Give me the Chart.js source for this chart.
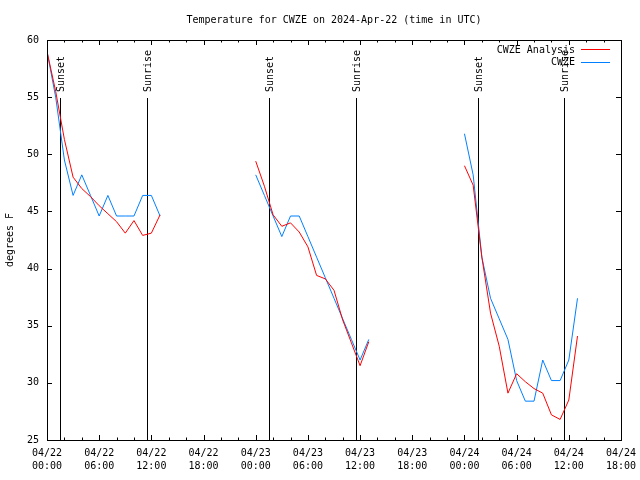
<!DOCTYPE html>
<html>
<head>
<meta charset="utf-8">
<script src="https://cdn.jsdelivr.net/npm/chart.js@4.4.1/dist/chart.umd.min.js"></script>
<style>
  html, body { margin: 0; padding: 0; background: #fff; }
  #wrap { width: 640px; height: 480px; }
</style>
</head>
<body>
<div id="wrap"><canvas id="tempChart"></canvas></div>
<script>
// hours since 2024-04-22 00:00 UTC
const hours = [0,1,2,3,4,5,6,7,8,9,10,11,12,13,14,15,16,17,18,19,20,21,22,23,
  24,25,26,27,28,29,30,31,32,33,34,35,36,37,38,39,40,41,42,43,44,45,46,47,
  48,49,50,51,52,53,54,55,56,57,58,59,60,61];

const analysis = [59.0,55.5,51.3,48.0,47.0,46.3,45.5,44.8,44.1,43.1,44.2,42.9,43.1,44.7,
  null,null,null,null,null,null,null,null,null,null,
  49.4,47.2,44.7,43.7,44.0,43.2,41.9,39.4,39.1,38.1,35.5,33.5,31.5,33.6,
  null,null,null,null,null,null,null,null,null,null,
  49.0,47.3,41.0,36.1,33.2,29.1,30.8,30.1,29.5,29.1,27.2,26.8,28.5,34.1];

const observed = [59.0,55.0,49.5,46.4,48.2,46.4,44.6,46.4,44.6,44.6,44.6,46.4,46.4,44.6,
  null,null,null,null,null,null,null,null,null,null,
  48.2,46.4,44.6,42.8,44.6,44.6,42.8,41.0,39.2,37.4,35.6,33.8,32.0,33.8,
  null,null,null,null,null,null,null,null,null,null,
  51.8,48.2,41.0,37.4,35.6,33.8,30.2,28.4,28.4,32.0,30.2,30.2,32.0,37.4];

const tickLabels = [
  ["04/22", "00:00"], ["04/22", "06:00"], ["04/22", "12:00"], ["04/22", "18:00"],
  ["04/23", "00:00"], ["04/23", "06:00"], ["04/23", "12:00"], ["04/23", "18:00"],
  ["04/24", "00:00"], ["04/24", "06:00"], ["04/24", "12:00"], ["04/24", "18:00"]
];

const sunHours = [1.53, 11.5, 25.56, 35.57, 49.6, 59.5];
const sunLabels = ["Sunset", "Sunrise", "Sunset", "Sunrise", "Sunset", "Sunrise"];

const seriesNames = ["CWZE Analysis", "CWZE"];
const seriesColors = ["#ff0000", "#0080ff"];

const FONT = "DejaVu Sans Mono";

function toPoints(vals) {
  return hours.map((h, i) => ({ x: h, y: vals[i] }));
}

const gnuplotLook = {
  id: "gnuplotLook",
  beforeDatasetsDraw(chart) {
    const { ctx, chartArea, scales } = chart;
    ctx.save();
    ctx.strokeStyle = "#000";
    ctx.fillStyle = "#000";
    ctx.lineWidth = 1;
    ctx.font = "10px '" + FONT + "'";
    sunHours.forEach((h, i) => {
      const x = Math.round(scales.x.getPixelForValue(h)) + 0.5;
      ctx.beginPath();
      ctx.moveTo(x, 98);
      ctx.lineTo(x, chartArea.bottom);
      ctx.stroke();
      ctx.save();
      ctx.translate(x + 1, 92);
      ctx.rotate(-Math.PI / 2);
      ctx.textAlign = "left";
      ctx.textBaseline = "middle";
      ctx.fillText(sunLabels[i], 0, 0);
      ctx.restore();
    });
    ctx.restore();
  },
  afterDraw(chart) {
    const { ctx, chartArea, scales } = chart;
    const { left, right, top, bottom } = chartArea;
    ctx.save();
    ctx.strokeStyle = "#000";
    ctx.lineWidth = 1;
    ctx.strokeRect(left + 0.5, top + 0.5, right - left, bottom - top);

    ctx.beginPath();
    for (let h = 0; h <= 66; h += 2) {
      const x = Math.round(scales.x.getPixelForValue(h)) + 0.5;
      const len = h % 6 === 0 ? 5 : 2.5;
      ctx.moveTo(x, bottom);
      ctx.lineTo(x, bottom - len);
      ctx.moveTo(x, top);
      ctx.lineTo(x, top + len);
    }
    for (let v = 25; v <= 60; v += 5) {
      const y = Math.round(scales.y.getPixelForValue(v)) + 0.5;
      ctx.moveTo(left, y);
      ctx.lineTo(left + 5, y);
      ctx.moveTo(right, y);
      ctx.lineTo(right - 5, y);
    }
    ctx.stroke();

    // title centred over plot
    ctx.fillStyle = "#000";
    ctx.font = "10px '" + FONT + "'";
    ctx.textAlign = "center";
    ctx.textBaseline = "middle";
    ctx.fillText("Temperature for CWZE on 2024-Apr-22 (time in UTC)", (left + right) / 2, 20);

    // legend
    ctx.textAlign = "right";
    seriesNames.forEach((name, i) => {
      const y = 50 + i * 12.5;
      ctx.fillStyle = "#000";
      ctx.fillText(name, 575, y);
      ctx.strokeStyle = seriesColors[i];
      ctx.beginPath();
      ctx.moveTo(581, Math.round(y) - 0.5);
      ctx.lineTo(610, Math.round(y) - 0.5);
      ctx.stroke();
    });
    ctx.restore();
  }
};

new Chart(document.getElementById("tempChart"), {
  type: "line",
  data: {
    datasets: [
      {
        label: seriesNames[0],
        data: toPoints(analysis),
        borderColor: seriesColors[0],
        borderWidth: 1,
        pointRadius: 0,
        tension: 0,
        spanGaps: false
      },
      {
        label: seriesNames[1],
        data: toPoints(observed),
        borderColor: seriesColors[1],
        borderWidth: 1,
        pointRadius: 0,
        tension: 0,
        spanGaps: false
      }
    ]
  },
  options: {
    responsive: true,
    maintainAspectRatio: false,
    animation: false,
    layout: { padding: { top: 40, right: 19, left: 0, bottom: 0 } },
    scales: {
      x: {
        type: "linear",
        min: 0,
        max: 66,
        grid: { display: false, drawTicks: false },
        border: { display: false },
        afterFit: (scale) => {
          scale.height = 40;
          scale.paddingLeft = 0;
          scale.paddingRight = 0;
        },
        ticks: {
          stepSize: 6,
          padding: 7,
          maxRotation: 0,
          autoSkip: false,
          color: "#000",
          font: { family: FONT, size: 10, lineHeight: 1.3 },
          callback: (value) => tickLabels[Math.round(value / 6)]
        }
      },
      y: {
        min: 25,
        max: 60,
        grid: { display: false, drawTicks: false },
        border: { display: false },
        afterFit: (scale) => {
          scale.width = 47;
          scale.paddingTop = 0;
          scale.paddingBottom = 0;
        },
        title: {
          display: true,
          text: "degrees F",
          color: "#000",
          font: { family: FONT, size: 10 },
          padding: { top: 4, bottom: 0 }
        },
        ticks: {
          stepSize: 5,
          padding: 8,
          color: "#000",
          font: { family: FONT, size: 10 }
        }
      }
    },
    plugins: {
      legend: { display: false },
      title: { display: false },
      tooltip: { enabled: false }
    }
  },
  plugins: [gnuplotLook]
});
</script>
</body>
</html>
